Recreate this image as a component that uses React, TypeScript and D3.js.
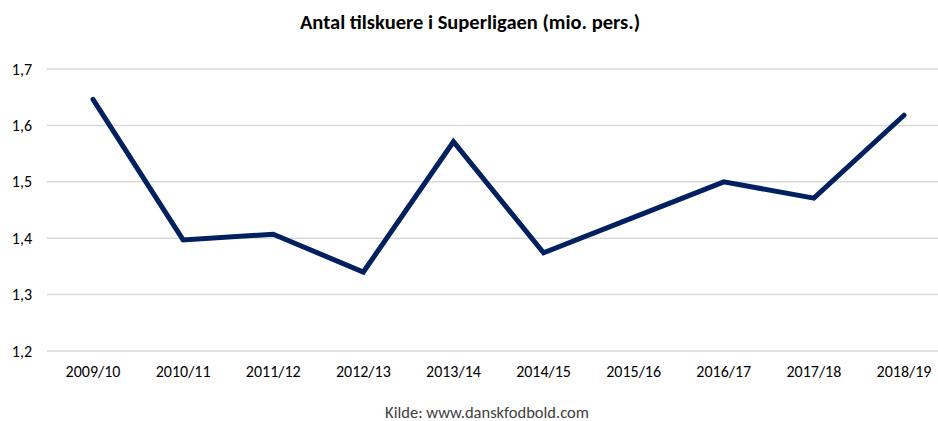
import React from "react";
import * as d3 from "d3";

const categories = ["2009/10","2010/11","2011/12","2012/13","2013/14","2014/15","2015/16","2016/17","2017/18","2018/19"];
const values = [1.646, 1.397, 1.407, 1.340, 1.571, 1.374, 1.437, 1.500, 1.471, 1.618];
const yTicks = [1.2, 1.3, 1.4, 1.5, 1.6, 1.7];
const title = "Antal tilskuere i Superligaen (mio. pers.)";
const source = "Kilde: www.danskfodbold.com";

const W = 938, H = 421;
const font = "Calibri, Carlito, 'Open Sans', sans-serif";

export default function App() {
  const x = d3.scalePoint<string>().domain(categories).range([93, 904]);
  const y = d3.scaleLinear().domain([1.2, 1.7]).range([351, 69]);
  const line = d3.line<number>().x((_, i) => x(categories[i])!).y(d => y(d));
  const fmt = (v: number) => d3.format(".1f")(v).replace(".", ",");
  return (
    <svg width={W} height={H} style={{ position: "absolute", left: 0, top: 0, background: "#fff" }}>
      <rect width={W} height={H} fill="#fff" />
      <text x={470} y={29} textAnchor="middle" fontFamily={font} fontWeight="bold" fontSize={20.5} fill="#000">{title}</text>
      {yTicks.map(t => (
        <g key={t}>
          <line x1={47} x2={938} y1={y(t)} y2={y(t)} stroke="#d9d9d9" strokeWidth={1.5} />
          <text x={32} y={y(t) + 5.5} textAnchor="end" fontFamily={font} fontSize={16} fill="#000">{fmt(t)}</text>
        </g>
      ))}
      {categories.map(c => (
        <text key={c} x={x(c)} y={377} textAnchor="middle" fontFamily={font} fontSize={16} fill="#000">{c}</text>
      ))}
      <path d={line(values)!} fill="none" stroke="#002060" strokeWidth={5} strokeLinejoin="miter" strokeLinecap="round" />
      <text x={487} y={418} textAnchor="middle" fontFamily={font} fontSize={16.5} fill="#404040">{source}</text>
    </svg>
  );
}
